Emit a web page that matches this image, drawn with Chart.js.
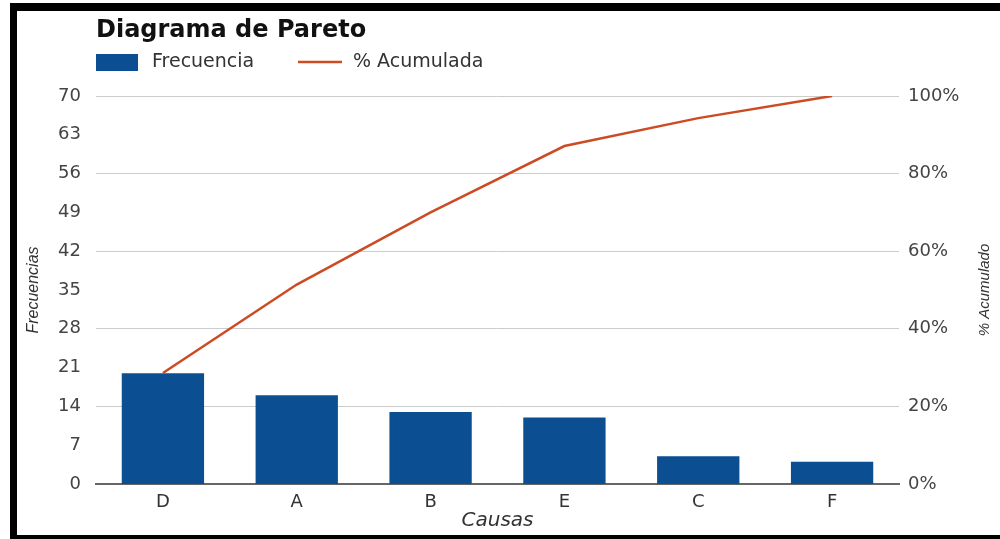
<!DOCTYPE html>
<html>
<head>
<meta charset="utf-8">
<title>Diagrama de Pareto</title>
<script src="https://cdn.jsdelivr.net/npm/chart.js@4/dist/chart.umd.min.js"></script>
<style>
  html, body { margin: 0; padding: 0; background: #fff; }
  .frame {
    position: absolute; left: 10px; top: 3px; width: 990px; height: 536px;
    box-sizing: border-box;
    border-left: 7px solid #000; border-top: 8px solid #000; border-bottom: 4px solid #000;
  }
  #chart { position: absolute; left: 17px; top: 11px; }
</style>
</head>
<body>
<div class="frame"></div>
<canvas id="chart" width="983" height="524"></canvas>
<script>
// Data
const causas = ['D', 'A', 'B', 'E', 'C', 'F'];
const frecuencias = [20, 16, 13, 12, 5, 4];
const acumulado = [28.6, 51.4, 70, 87.1, 94.3, 100];

const chartTitle = 'Diagrama de Pareto';
const barLabel = 'Frecuencia';
const lineLabel = '% Acumulada';

const barColor = '#0c4e92';
const lineColor = '#cc4b23';

// Title + legend, aligned with the left of the plot area
const headerPlugin = {
  id: 'header',
  afterDraw(chart) {
    const { ctx, chartArea } = chart;
    const x0 = chartArea.left;
    ctx.save();
    ctx.textBaseline = 'middle';
    ctx.textAlign = 'left';

    ctx.fillStyle = '#111';
    ctx.font = 'bold 24px "DejaVu Sans"';
    ctx.fillText(chartTitle, x0, 20);

    ctx.font = '19px "DejaVu Sans"';
    ctx.fillStyle = barColor;
    ctx.fillRect(x0, 43, 42, 17);
    ctx.fillStyle = '#333';
    ctx.fillText(barLabel, x0 + 56, 51);

    ctx.strokeStyle = lineColor;
    ctx.lineWidth = 2.5;
    ctx.beginPath();
    ctx.moveTo(x0 + 202, 51);
    ctx.lineTo(x0 + 246, 51);
    ctx.stroke();
    ctx.fillText(lineLabel, x0 + 257, 51);

    // right axis title, reads bottom to top
    ctx.font = 'italic 15px "Liberation Sans"';
    ctx.textAlign = 'center';
    ctx.translate(chart.width - 15, (chartArea.top + chartArea.bottom) / 2);
    ctx.rotate(-Math.PI / 2);
    ctx.fillText('% Acumulado', 0, 0);
    ctx.restore();
  }
};

const ctx = document.getElementById('chart').getContext('2d');
new Chart(ctx, {
  data: {
    labels: causas,
    datasets: [
      {
        type: 'line',
        label: lineLabel,
        data: acumulado,
        yAxisID: 'y1',
        borderColor: lineColor,
        borderWidth: 2.5,
        pointRadius: 0,
        tension: 0,
        order: 0
      },
      {
        type: 'bar',
        label: barLabel,
        data: frecuencias,
        yAxisID: 'y',
        backgroundColor: barColor,
        categoryPercentage: 1,
        barPercentage: 0.615,
        order: 1
      }
    ]
  },
  options: {
    responsive: false,
    animation: false,
    layout: { padding: { top: 85, left: 0, right: 0, bottom: 0 } },
    plugins: {
      legend: { display: false },
      tooltip: { enabled: false }
    },
    scales: {
      x: {
        afterFit(scale) { scale.height = 51; },
        grid: { display: false },
        border: { display: true, color: '#666', width: 2 },
        ticks: { color: '#333', padding: 0, font: { family: 'DejaVu Sans', size: 18 } },
        title: {
          display: true,
          text: 'Causas',
          color: '#333',
          padding: { top: 0, bottom: 2 },
          font: { family: 'DejaVu Sans', size: 20, style: 'italic' }
        }
      },
      y: {
        position: 'left',
        min: 0,
        max: 70,
        afterFit(scale) { scale.width = 79; },
        grid: { display: false },
        border: { display: false },
        ticks: { stepSize: 7, color: '#444', padding: 7, font: { family: 'DejaVu Sans', size: 18 } },
        title: {
          display: true,
          text: 'Frecuencias',
          color: '#333',
          padding: { top: 7, bottom: 0 },
          font: { family: 'Liberation Sans', size: 16, style: 'italic' }
        }
      },
      y1: {
        position: 'right',
        min: 0,
        max: 100,
        afterFit(scale) { scale.width = 101; },
        grid: { color: '#cccccc', drawTicks: false },
        border: { display: false },
        ticks: {
          stepSize: 20,
          color: '#444',
          padding: 9,
          font: { family: 'DejaVu Sans', size: 18 },
          callback: v => v + '%'
        }
      }
    }
  },
  plugins: [headerPlugin]
});
</script>
</body>
</html>
